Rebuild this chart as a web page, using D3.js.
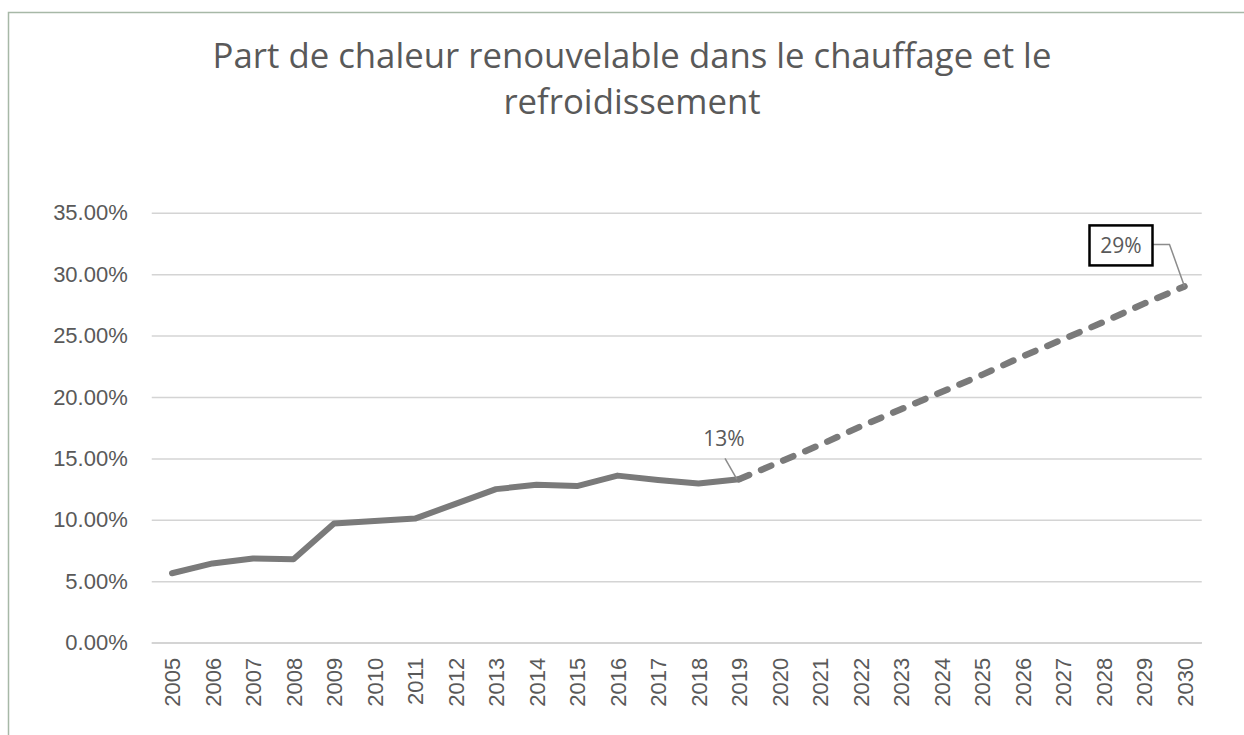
<!doctype html>
<html>
<head>
<meta charset="utf-8">
<style>
  body { margin: 0; background: #fff; }
  text { fill: #595959; }
</style>
<script src="https://d3js.org/d3.v7.min.js"></script>
</head>
<body>
<svg width="1244" height="735"></svg>
<script>
// categories
var years = ["2005","2006","2007","2008","2009","2010","2011","2012","2013","2014","2015","2016","2017",
             "2018","2019","2020","2021","2022","2023","2024","2025","2026","2027","2028","2029","2030"];
// observed share (%), 2005-2019
var observed = [5.65, 6.45, 6.85, 6.8, 9.7, 9.9, 10.1, 11.3, 12.5, 12.85, 12.75, 13.6, 13.25, 12.95, 13.3];
// target path (%), 2019-2030
var projected = [13.3, 14.7, 16.1, 17.6, 19.0, 20.4, 21.8, 23.3, 24.7, 26.1, 27.6, 29.0];
var yTicks = [0, 5, 10, 15, 20, 25, 30, 35];
var titleLines = ["Part de chaleur renouvelable dans le chauffage et le", "refroidissement"];

var labelFont = "'Liberation Sans', Arial, sans-serif";
var svg = d3.select("svg");

// chart frame (right and bottom edges run off the picture)
svg.append("rect")
   .attr("x", 8.5).attr("y", 12.5)
   .attr("width", 1300).attr("height", 800)
   .attr("fill", "none").attr("stroke", "#a7b8a7").attr("stroke-width", 1.5);

// title
var title = svg.append("g");
titleLines.forEach(function(t, i) {
    title.append("text")
         .attr("x", 632).attr("y", 68 + i * 46)
         .attr("text-anchor", "middle")
         .style("font-family", "'Open Sans', sans-serif")
         .style("font-size", "30px")
         .text(t);
});
// fit first line to the reference width
var w = title.select("text").node().getComputedTextLength();
title.selectAll("text").style("font-size", (30 * 839 / w) + "px");

var xScale = d3.scalePoint().domain(years).range([151.75, 1204.75]).padding(0.5),
    yScale = d3.scaleLinear().domain([0, 35]).range([642.7, 212.7]);

// gridlines
svg.append("g")
   .attr("transform", "translate(151.75,0)")
   .call(d3.axisLeft(yScale).tickValues(yTicks).tickSize(-1050).tickFormat(""))
   .call(function(g) {
       g.select(".domain").remove();
       g.selectAll("line").attr("stroke", "#d4d4d4").attr("stroke-width", 1.5);
   });

// y tick labels
svg.append("g")
   .attr("transform", "translate(151.75,0)")
   .call(d3.axisLeft(yScale).tickValues(yTicks).tickSize(0).tickPadding(24)
         .tickFormat(function(d) { return d3.format(".2%")(d / 100); }))
   .call(function(g) {
       g.select(".domain").remove();
       g.selectAll("text").attr("fill", "#595959")
        .style("font-family", labelFont).style("font-size", "22px");
   });

// x axis
svg.append("g")
   .attr("transform", "translate(0," + yScale(0) + ")")
   .call(d3.axisBottom(xScale).tickSize(0).tickPadding(0))
   .call(function(g) {
       g.select(".domain").attr("stroke", "#d4d4d4").attr("stroke-width", 1.5)
        .attr("d", "M151.75,0H1202");
       g.selectAll("text")
        .attr("fill", "#595959")
        .style("font-family", labelFont).style("font-size", "22px")
        .attr("text-anchor", "end")
        .attr("dy", "0.35em")
        .attr("transform", "translate(0,15) rotate(-90)");
   });

var line = d3.line()
    .x(function(d) { return xScale(d.year); })
    .y(function(d) { return yScale(d.value); });

var obsData = observed.map(function(v, i) { return { year: years[i], value: v }; });
var projData = projected.map(function(v, i) { return { year: years[14 + i], value: v }; });

svg.append("path")
   .datum(projData)
   .attr("d", line)
   .attr("fill", "none").attr("stroke", "#7a7a7a")
   .attr("stroke-width", 6.5).attr("stroke-linecap", "round")
   .attr("stroke-dasharray", "11,13");

svg.append("path")
   .datum(obsData)
   .attr("d", line)
   .attr("fill", "none").attr("stroke", "#7a7a7a")
   .attr("stroke-width", 6).attr("stroke-linejoin", "round").attr("stroke-linecap", "round");

// label 13%
var p19 = { x: xScale("2019"), y: yScale(observed[observed.length - 1]) };
svg.append("line")
   .attr("x1", p19.x - 14).attr("y1", p19.y - 21)
   .attr("x2", p19.x - 2).attr("y2", p19.y)
   .attr("stroke", "#8c8c8c").attr("stroke-width", 1.5);
svg.append("text")
   .attr("x", p19.x - 15).attr("y", p19.y - 33)
   .attr("text-anchor", "middle")
   .style("font-family", "'Open Sans', sans-serif").style("font-size", "21px")
   .text(Math.round(observed[observed.length - 1]) + "%");

// label 29%
var p30 = { x: xScale("2030"), y: yScale(projected[projected.length - 1]) };
svg.append("path")
   .attr("d", "M" + (p30.x - 32) + "," + (p30.y - 42) + "H" + (p30.x - 15) + "L" + p30.x + "," + p30.y)
   .attr("fill", "none").attr("stroke", "#8c8c8c").attr("stroke-width", 1.5);
svg.append("rect")
   .attr("x", p30.x - 95).attr("y", p30.y - 61)
   .attr("width", 63).attr("height", 40)
   .attr("fill", "#fff").attr("stroke", "#000").attr("stroke-width", 2.5);
svg.append("text")
   .attr("x", p30.x - 63.5).attr("y", p30.y - 33)
   .attr("text-anchor", "middle")
   .style("font-family", "'Open Sans', sans-serif").style("font-size", "21px")
   .text(Math.round(projected[projected.length - 1]) + "%");
</script>
</body>
</html>
